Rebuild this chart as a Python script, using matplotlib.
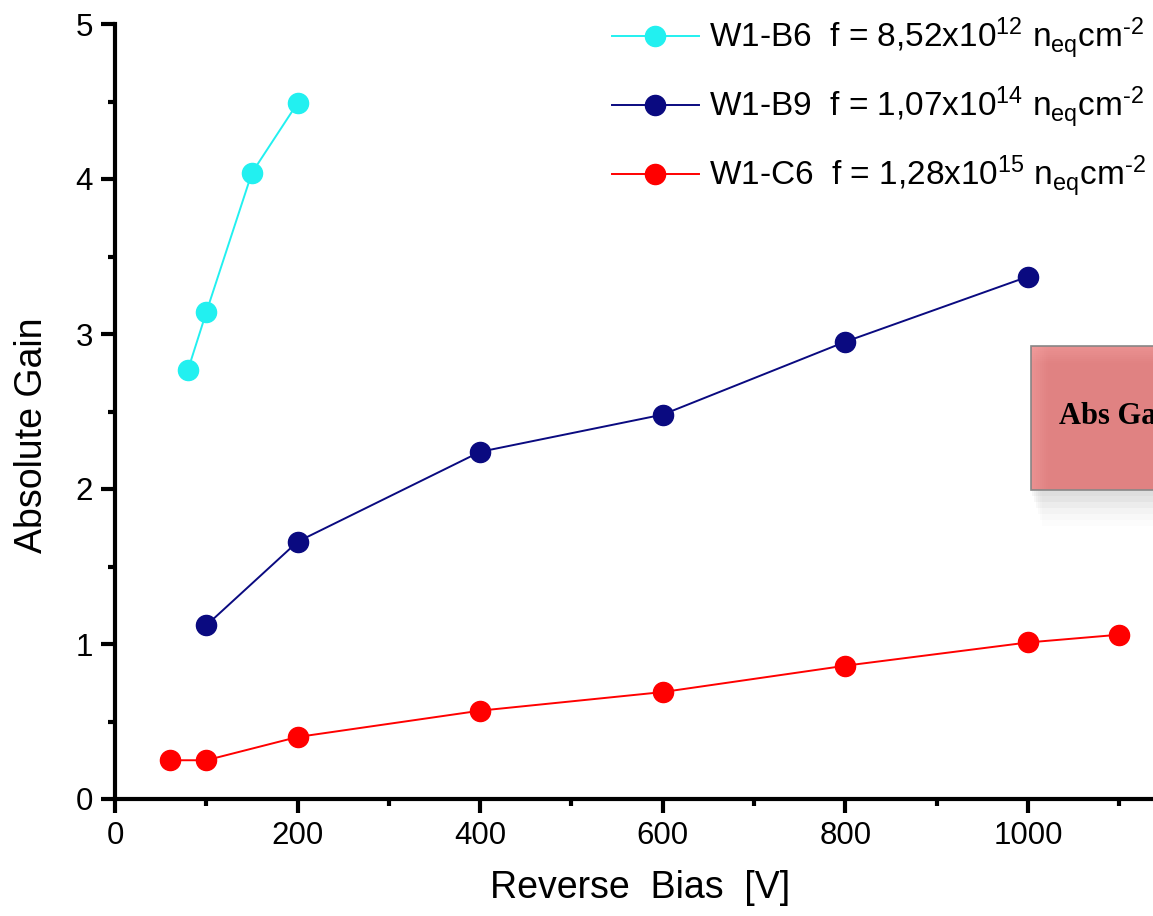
import matplotlib
matplotlib.use('Agg')
import matplotlib.pyplot as plt
from matplotlib.ticker import MultipleLocator
from matplotlib.patches import Rectangle

# data
b6_bias = [80, 100, 150, 200]
b6_gain = [2.77, 3.14, 4.04, 4.49]
b9_bias = [100, 200, 400, 600, 800, 1000]
b9_gain = [1.12, 1.66, 2.24, 2.48, 2.95, 3.37]
c6_bias = [60, 100, 200, 400, 600, 800, 1000, 1100]
c6_gain = [0.25, 0.25, 0.40, 0.57, 0.69, 0.86, 1.01, 1.06]

labels = [r'W1-B6  f = 8,52x10$^{12}$ n$_{eq}$cm$^{\text{-}2}$',
          r'W1-B9  f = 1,07x10$^{14}$ n$_{eq}$cm$^{\text{-}2}$',
          r'W1-C6  f = 1,28x10$^{15}$ n$_{eq}$cm$^{\text{-}2}$']

plt.rcParams['font.family'] = ['Liberation Sans', 'DejaVu Sans']
plt.rcParams['mathtext.fontset'] = 'custom'
plt.rcParams['mathtext.rm'] = 'Liberation Sans'
plt.rcParams['mathtext.it'] = 'Liberation Sans'

W, H = 1153, 916
fig = plt.figure(figsize=(W / 100, H / 100), dpi=100)
ax = fig.add_axes([115 / W, (H - 799) / H, 1 - 115 / W, (799 - 24) / H])

ax.plot(b6_bias, b6_gain, 'o-', color='#22f0f0', lw=1.4, ms=14.5, label=labels[0])
ax.plot(b9_bias, b9_gain, 'o-', color='#0a0a80', lw=1.4, ms=14.5, label=labels[1])
ax.plot(c6_bias, c6_gain, 'o-', color='#ff0000', lw=1.4, ms=14.5, label=labels[2])

ax.set_xlim(0, 1137)
ax.set_ylim(0, 5)
ax.spines['top'].set_visible(False)
ax.spines['right'].set_visible(False)
for s in ['left', 'bottom']:
    ax.spines[s].set_linewidth(3)
ax.xaxis.set_major_locator(MultipleLocator(200))
ax.xaxis.set_minor_locator(MultipleLocator(100))
ax.yaxis.set_major_locator(MultipleLocator(1))
ax.yaxis.set_minor_locator(MultipleLocator(0.5))
ax.tick_params(which='major', length=10, width=3, labelsize=22.5, pad=6)
ax.tick_params(which='minor', length=5, width=3)

fig.text(640 / W, 1 - 888 / H, 'Reverse  Bias  [V]', fontsize=27, ha='center', va='center')
fig.text(32 / W, 1 - 435 / H, 'Absolute Gain', fontsize=27, ha='center', va='center', rotation=90)

leg = ax.legend(loc='upper left', bbox_to_anchor=(612 / W, 1 - 16 / H), bbox_transform=fig.transFigure,
                frameon=False, fontsize=24, handlelength=2.6, handletextpad=0.3, labelspacing=0.72,
                borderpad=0, borderaxespad=0)

# pink annotation box, cut off at the right edge
for i, a in enumerate([0.07, 0.06, 0.05, 0.04, 0.03, 0.02]):
    fig.patches.append(Rectangle(((1030 + 2 + i * 2) / W, 1 - (496 + i * 6) / H), 200 / W, 150 / H,
                                 transform=fig.transFigure, facecolor='gray', alpha=a, lw=0))
fig.patches.append(Rectangle((1031 / W, 1 - 490 / H), 200 / W, 144 / H, transform=fig.transFigure,
                             facecolor='#e08282', edgecolor='#888888', lw=1.2))
# soft lighter band along left and top edges
for i in range(8):
    a = 0.16 * (1 - i / 8)
    fig.patches.append(Rectangle(((1032 + i * 2) / W, 1 - 489 / H), 2 / W, 142 / H,
                                 transform=fig.transFigure, facecolor='#ffb0b0', lw=0, alpha=a * 2))
    fig.patches.append(Rectangle((1032 / W, 1 - (349 + i * 2) / H), 200 / W, 2 / H,
                                 transform=fig.transFigure, facecolor='#ffb0b0', lw=0, alpha=a * 2))
fig.text(1059 / W, 1 - 417 / H, 'Abs Gain', fontsize=22, fontweight='bold',
         family='Liberation Serif', ha='left', va='center')

fig.savefig('out.png', dpi=100)
